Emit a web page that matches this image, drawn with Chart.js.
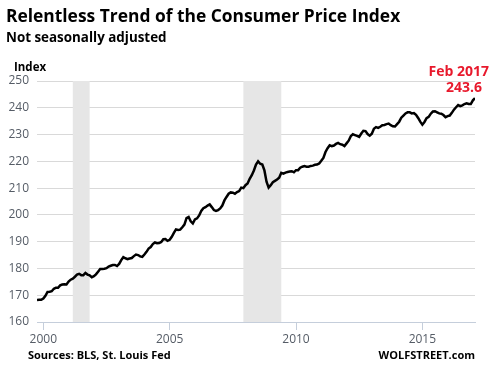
<!DOCTYPE html>
<html>
<head>
<meta charset="utf-8">
<script src="https://cdn.jsdelivr.net/npm/chart.js@4"></script>
<style>
  html, body { margin: 0; padding: 0; background: #fff; }
  #wrap { width: 492px; height: 372px; }
</style>
</head>
<body>
<div id="wrap"><canvas id="cpiChart" width="492" height="372"></canvas></div>
<script>
// CPI-U, not seasonally adjusted, monthly from Oct 1999 to Feb 2017
const startYear = 1999;
const startMonth = 9; // 0 = Jan, so 9 = Oct
const cpi = [
  168.2, 168.3, 168.3,
  168.8, 169.8, 171.2, 171.3, 171.5, 172.4, 172.8, 172.8, 173.7, 174.0, 174.1, 174.0,
  175.1, 175.8, 176.2, 176.9, 177.7, 178.0, 177.5, 177.5, 178.3, 177.7, 177.4, 176.7,
  177.1, 177.8, 178.8, 179.8, 179.8, 179.9, 180.1, 180.7, 181.0, 181.3, 181.3, 180.9,
  181.7, 183.1, 184.2, 183.8, 183.5, 183.7, 183.9, 184.6, 185.2, 185.0, 184.5, 184.3,
  185.2, 186.2, 187.4, 188.0, 189.1, 189.7, 189.4, 189.5, 189.9, 190.9, 191.0, 190.3,
  190.7, 191.8, 193.3, 194.6, 194.4, 194.5, 195.4, 196.4, 198.8, 199.2, 197.6, 196.8,
  198.3, 198.7, 199.8, 201.5, 202.5, 202.9, 203.5, 203.9, 202.9, 201.8, 201.5, 201.8,
  202.4, 203.5, 205.4, 206.7, 207.9, 208.4, 208.3, 207.9, 208.5, 208.9, 210.2, 210.0,
  211.1, 211.7, 213.5, 214.8, 216.6, 218.8, 220.0, 219.1, 218.8, 216.6, 212.4, 210.2,
  211.1, 212.2, 212.7, 213.2, 213.9, 215.7, 215.4, 215.8, 216.0, 216.2, 216.3, 215.9,
  216.7, 216.7, 217.6, 218.0, 218.2, 218.0, 218.0, 218.3, 218.4, 218.7, 218.8, 219.2,
  220.2, 221.3, 223.5, 224.9, 226.0, 225.7, 225.9, 226.5, 226.9, 226.4, 226.2, 225.7,
  226.7, 227.7, 229.4, 230.1, 229.8, 229.5, 229.1, 230.4, 231.4, 231.3, 230.2, 229.6,
  230.3, 232.2, 232.8, 232.5, 232.9, 233.5, 233.6, 233.9, 234.1, 233.5, 233.1, 233.0,
  233.9, 234.8, 236.3, 237.1, 237.9, 238.3, 238.3, 237.9, 238.0, 237.4, 236.2, 234.8,
  233.7, 234.7, 236.1, 236.6, 237.8, 238.6, 238.7, 238.3, 237.9, 237.8, 237.3, 236.5,
  236.9, 237.1, 238.1, 239.3, 240.2, 241.0, 240.6, 240.9, 241.4, 241.7, 241.4, 241.4,
  242.8, 243.6
];

// recessions, as [start, end] in decimal years
const recessions = [
  [2001 + 2 / 12, 2001 + 10 / 12],
  [2007 + 11 / 12, 2009 + 5 / 12]
];

const xTicks = [2000, 2005, 2010, 2015];
const yMin = 160;
const yMax = 250;
const yStep = 10;

const points = cpi.map((v, i) => ({ x: startYear + (startMonth + i) / 12, y: v }));
const lastPoint = points[points.length - 1];

const FONT = "'Open Sans', 'Noto Sans', sans-serif";

// grey recession bars behind the line
const recessionBands = {
  id: "recessionBands",
  beforeDatasetsDraw(chart) {
    const { ctx, chartArea, scales } = chart;
    ctx.save();
    ctx.fillStyle = "#e6e6e6";
    recessions.forEach(([a, b]) => {
      const x1 = scales.x.getPixelForValue(a);
      const x2 = scales.x.getPixelForValue(b);
      ctx.fillRect(x1, chartArea.top, x2 - x1, chartArea.bottom - chartArea.top);
    });
    ctx.restore();
  },
};

// titles, source line and the last value note
const labels = {
  id: "labels",
  afterDraw(chart) {
    const { ctx } = chart;
    ctx.save();
    ctx.textBaseline = "alphabetic";

    ctx.fillStyle = "#000";
    ctx.textAlign = "left";
    ctx.font = "bold 17.4px " + FONT;
    ctx.fillText("Relentless Trend of the Consumer Price Index", 6, 22);
    ctx.font = "bold 13.4px " + FONT;
    ctx.fillText("Not seasonally adjusted", 6, 42);
    ctx.font = "bold 11.5px " + FONT;
    ctx.fillText("Index", 14, 71);

    ctx.font = "bold 11px " + FONT;
    ctx.fillText("Sources: BLS, St. Louis Fed", 28, 359);
    ctx.textAlign = "right";
    ctx.fillText("WOLFSTREET.com", 475, 359);

    ctx.fillStyle = "#e8192c";
    ctx.font = "bold 14px " + FONT;
    ctx.fillText("Feb 2017", 489, 76);
    ctx.fillText(lastPoint.y.toFixed(1), 482, 92);
    ctx.restore();
  },
};

new Chart(document.getElementById("cpiChart"), {
  type: "line",
  data: {
    datasets: [
      {
        label: "CPI",
        data: points,
        borderColor: "#000",
        borderWidth: 2.5,
        pointRadius: 0,
        tension: 0,
        fill: false,
      },
    ],
  },
  options: {
    responsive: false,
    animation: false,
    devicePixelRatio: 1,
    layout: { padding: { top: 81, right: 17, bottom: 0, left: 0 } },
    plugins: {
      legend: { display: false },
      tooltip: { enabled: false },
    },
    scales: {
      x: {
        type: "linear",
        min: points[0].x,
        max: lastPoint.x,
        afterBuildTicks: (scale) => {
          scale.ticks = xTicks.map((v) => ({ value: v }));
        },
        afterFit: (scale) => {
          scale.height = 50;
        },
        grid: {
          drawOnChartArea: false,
          drawTicks: true,
          tickLength: 8,
          tickColor: "#c5cedb",
        },
        border: { display: true, color: "#c5cedb", width: 1 },
        ticks: {
          padding: 2,
          color: "#555c66",
          font: { family: FONT, size: 12 },
          callback: (v) => String(v),
          maxRotation: 0,
        },
      },
      y: {
        min: yMin,
        max: yMax,
        afterFit: (scale) => {
          scale.width = 37;
        },
        grid: {
          color: "#d9d9d9",
          drawTicks: false,
        },
        border: { display: false },
        ticks: {
          stepSize: yStep,
          padding: 8,
          color: "#555c66",
          font: { family: FONT, size: 12 },
        },
      },
    },
  },
  plugins: [recessionBands, labels],
});
</script>
</body>
</html>
